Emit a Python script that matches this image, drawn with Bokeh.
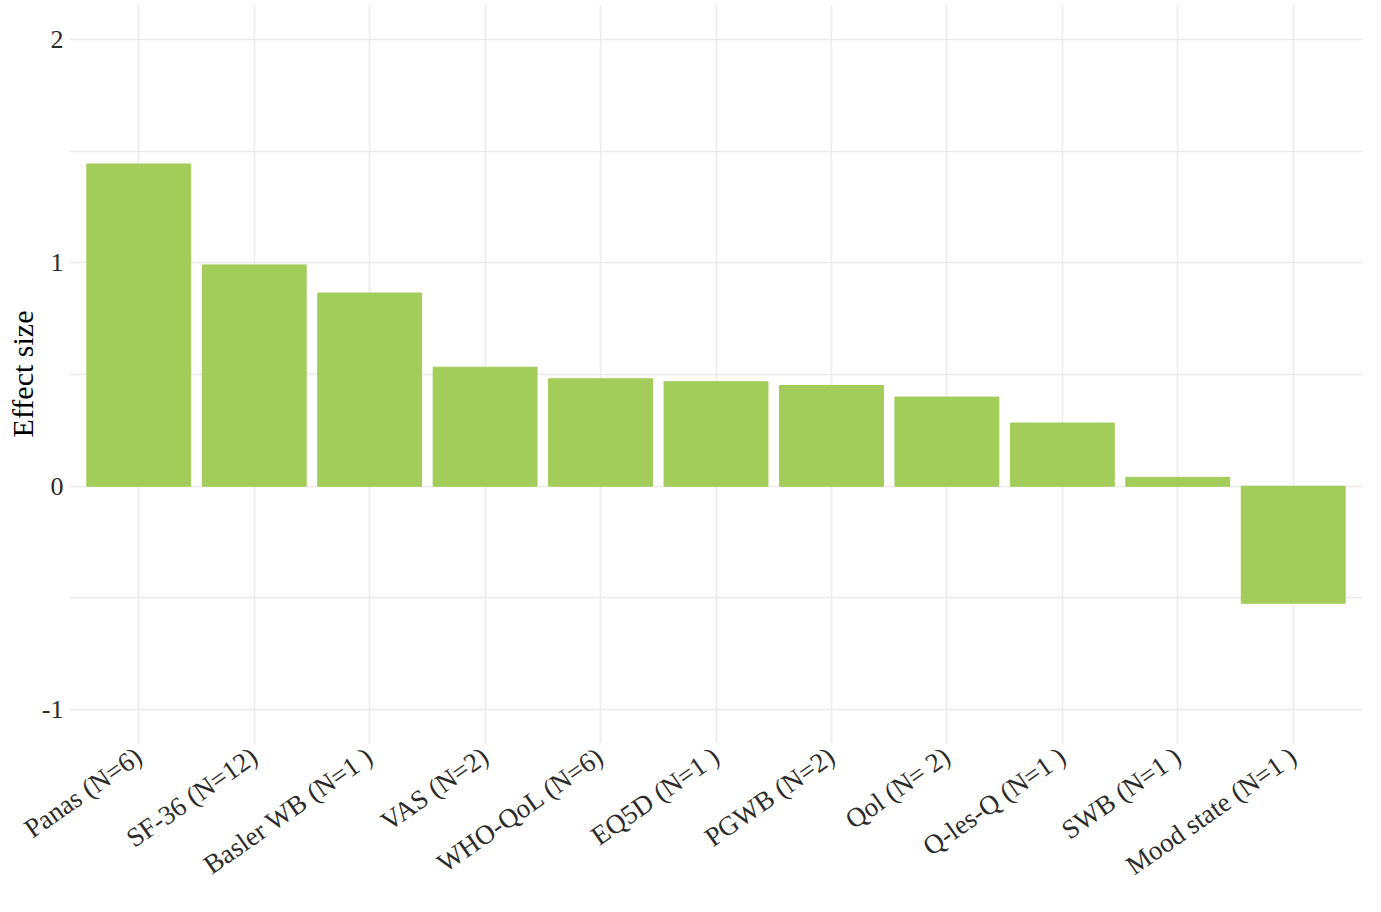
import math
from bokeh.plotting import figure
from bokeh.models import FactorRange, Range1d, FixedTicker, ColumnDataSource
from bokeh.embed import file_html
from bokeh.resources import INLINE

categories = ["Panas (N=6)", "SF-36 (N=12)", "Basler WB (N=1 )", "VAS (N=2)",
              "WHO-QoL (N=6)", "EQ5D (N=1 )", "PGWB (N=2)", "Qol (N= 2)",
              "Q-les-Q (N=1 )", "SWB (N=1 )", "Mood state (N=1 )"]
effect_size = [1.443, 0.991, 0.865, 0.533, 0.481, 0.468, 0.451, 0.399, 0.283, 0.040, -0.524]
y_ticks = [-1, 0, 1, 2]
y_tick_labels = {-1: "-1", 0: "0", 1: "1", 2: "2"}
y_minor = [-0.5, 0.5, 1.5]

FONT = "Liberation Serif"
BAR = "#A3CC5B"
GRID = "#EBEBEB"
Y0, Y1 = -1.152, 2.157

src = ColumnDataSource(dict(cat=categories, val=effect_size))

p = figure(width=1365, height=896, output_backend="svg", toolbar_location=None,
           x_range=FactorRange(*categories, range_padding=0.1, range_padding_units="absolute"),
           y_range=Range1d(Y0, Y1),
           min_border_left=69, min_border_right=3, min_border_top=4, min_border_bottom=148)

p.vbar(x="cat", top="val", bottom=0, width=0.9, source=src,
       fill_color=BAR, line_color=BAR, line_width=1)

p.outline_line_color = None
p.background_fill_color = "white"

ticker = FixedTicker(ticks=y_ticks, minor_ticks=y_minor)
p.yaxis.ticker = ticker
p.ygrid.ticker = ticker
p.ygrid.grid_line_color = GRID
p.ygrid.grid_line_width = 1.5
p.ygrid.minor_grid_line_color = GRID
p.ygrid.minor_grid_line_width = 1.5
p.xgrid.grid_line_color = GRID
p.xgrid.grid_line_width = 1.5

for ax in (p.xaxis, p.yaxis):
    ax.axis_line_color = None
    ax.major_tick_line_color = None
    ax.minor_tick_line_color = None
    ax.major_tick_out = 0
    ax.minor_tick_out = 0
    ax.major_tick_in = 0
    ax.minor_tick_in = 0
    ax.major_label_text_font = FONT
    ax.major_label_text_color = "#2b2b2b"

p.yaxis.major_label_text_font_size = "26px"
p.yaxis.major_label_standoff = 6
p.yaxis.major_label_overrides = y_tick_labels
p.yaxis.axis_label = "Effect size"
p.yaxis.axis_label_text_font = FONT
p.yaxis.axis_label_text_font_style = "normal"
p.yaxis.axis_label_text_font_size = "30px"
p.yaxis.axis_label_text_color = "black"
p.yaxis.axis_label_standoff = 0

p.xaxis.major_label_text_font_size = "27px"
p.xaxis.major_label_orientation = math.radians(35)
p.xaxis.major_label_standoff = 10

open("out.html", "w").write(file_html(p, INLINE))
